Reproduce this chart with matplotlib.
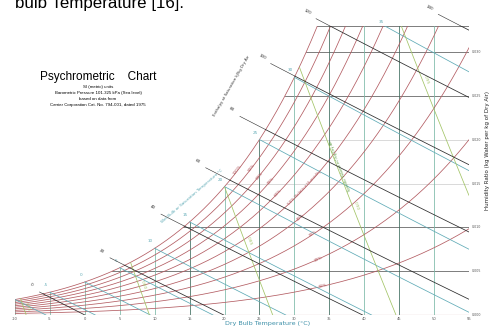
import numpy as np
import matplotlib
matplotlib.use('Agg')
import matplotlib.pyplot as plt

# levels and ticks
dry_bulb = [-10, -5, 0, 5, 10, 15, 20, 25, 30, 35, 40, 45, 50, 55]
dry_bulb_dark = [15, 25, 35, 45]
w_ticks = [0.000, 0.005, 0.010, 0.015, 0.020, 0.025, 0.030]
w_lines = [0.005, 0.010, 0.015, 0.020, 0.025, 0.030, 0.033]
w_lines_light = [0.015, 0.020]
rh_levels = [0.1, 0.2, 0.3, 0.4, 0.5, 0.6, 0.7, 0.8, 0.9, 1.0]
rh_labels = ['10%', '20%', '30%', '40%', '50% Relative Humidity', '60%', '70%', '80%', '90%', '100%']
rh_label_t = [34.1, 33.4, 32.7, 30.9, 31.5, 27.7, 26.6, 25.0, 23.9, 21.9]
wet_bulb = [-10, -5, 0, 5, 10, 15, 20, 25, 30, 35]
enthalpy = [0, 20, 40, 60, 80, 100, 120, 140]
enthalpy_label_t = [-7.7, 2.4, 9.7, 16.1, 21.0, 25.4, 31.9, 49.4]
volume = [0.75, 0.80, 0.85, 0.90, 0.95]
volume_label_w = [0.0009, 0.0034, 0.0084, 0.0125, 0.0268]

P = 101.325
T_MIN, T_MAX, W_TOP = -10, 55, 0.033

rh_color = '#b35c62'
wb_color = '#5eaab6'
db_color = '#78b8a6'
db_dark = '#3b6b5c'
h_color = '#2a2a2a'
v_color = '#a2c466'
grid_dark = '#5a5a5a'
grid_light = '#cfcfcf'


def p_sat(t):
    return 0.61094 * np.exp(17.625 * t / (t + 243.04))


def t_from_ps(ps):
    a = np.log(ps / 0.61094)
    return 243.04 * a / (17.625 - a)


def w_from_pv(pv):
    return 0.622 * pv / (P - pv)


def pv_from_w(w):
    return w * P / (0.622 + w)


def w_sat(t):
    return w_from_pv(p_sat(t))


def h_line_w(h, t):
    return (h - 1.006 * t) / (2501 + 1.86 * t)


tt = np.linspace(-20, 70, 4000)
h_sat_grid = 1.006 * tt + w_sat(tt) * (2501 + 1.86 * tt)

fig = plt.figure(figsize=(4.92, 3.36), dpi=100)
ax = fig.add_axes([15 / 492, 21 / 336, 454 / 492, 289 / 336])
ax.set_xlim(T_MIN, T_MAX)
ax.set_ylim(0, W_TOP)
ax.axis('off')

lw = 0.55

# horizontal humidity ratio lines
for w in w_lines:
    c = grid_light if w in w_lines_light else grid_dark
    ax.plot([t_from_ps(pv_from_w(w)), T_MAX], [w, w], color=c, lw=lw, zorder=1)

# dry bulb verticals
for t in dry_bulb:
    top = min(w_sat(t), W_TOP)
    c = db_dark if t in dry_bulb_dark else db_color
    ax.plot([t, t], [0, top], color=c, lw=lw, zorder=1)

# relative humidity curves
for rh in rh_levels:
    t_end = min(T_MAX, t_from_ps(pv_from_w(W_TOP) / rh))
    t = np.linspace(T_MIN, t_end, 300)
    ax.plot(t, w_from_pv(rh * p_sat(t)), color=rh_color, lw=lw, zorder=2)
ax.plot([T_MIN, T_MAX], [0, 0], color=rh_color, lw=0.8, zorder=2)

# wet bulb lines
for twb in wet_bulb:
    A = (2501 - 2.326 * twb) * w_sat(twb)
    if w_sat(twb) <= W_TOP:
        t0 = twb
    else:
        t0 = (A + 1.006 * twb - W_TOP * (2501 - 4.186 * twb)) / (1.86 * W_TOP + 1.006)
    t1 = min(T_MAX, twb + A / 1.006)
    t = np.linspace(t0, t1, 60)
    w = (A - 1.006 * (t - twb)) / (2501 + 1.86 * t - 4.186 * twb)
    ax.plot(t, np.clip(w, 0, None), color=wb_color, lw=lw, zorder=3)
    if w_sat(twb) <= W_TOP:
        lx, ly = twb - 0.6, w_sat(twb) + 0.0008
    else:
        lx, ly = t0 - 0.5, W_TOP + 0.0005
    if twb > -10:
        ax.text(lx, ly, str(twb), color=wb_color, fontsize=3, ha='center', va='center',
                clip_on=False)

# enthalpy lines, with their scale outside the saturation curve
for h, lt in zip(enthalpy, enthalpy_label_t):
    ts = np.interp(h, h_sat_grid, tt)
    t_in = ts
    if w_sat(ts) > W_TOP:
        t_in = (h - W_TOP * 2501) / (1.006 + W_TOP * 1.86)
    t_end = min(T_MAX, h / 1.006)
    t = np.linspace(t_in, t_end, 60)
    ax.plot(t, np.clip(h_line_w(h, t), 0, None), color=h_color, lw=lw, zorder=4)
    t = np.linspace(lt + 1.2, t_in, 20)
    ax.plot(t, h_line_w(h, t), color=h_color, lw=0.4, zorder=4, clip_on=False)
    ax.text(lt, h_line_w(h, lt) + 0.0003, str(h), fontsize=3, color=h_color,
            ha='center', va='center', rotation=-27, clip_on=False)

# specific volume lines
for v, lw_ in zip(volume, volume_label_w):
    k = v * P / 0.287042
    tg = np.linspace(-10, 70, 3000)
    wg = (k / (tg + 273.15) - 1) / 1.6078
    ok = (wg >= 0) & (wg <= np.minimum(w_sat(tg), W_TOP)) & (tg <= T_MAX)
    ax.plot(tg[ok], wg[ok], color=v_color, lw=lw, zorder=3)
    tl = k / (1 + 1.6078 * lw_) - 273.15
    ax.text(tl + 0.6, lw_, '%.2f' % v, fontsize=3, color=v_color, rotation=-70,
            ha='center', va='center')

fig.canvas.draw()


def screen_angle(x0, y0, x1, y1):
    (a, b), (c, d) = ax.transData.transform([(x0, y0), (x1, y1)])
    return np.degrees(np.arctan2(d - b, c - a))


# relative humidity labels
for rh, lab, lt in zip(rh_levels, rh_labels, rh_label_t):
    w0 = w_from_pv(rh * p_sat(lt - 0.3))
    w1 = w_from_pv(rh * p_sat(lt + 0.3))
    ang = screen_angle(lt - 0.3, w0, lt + 0.3, w1)
    ax.text(lt, w_from_pv(rh * p_sat(lt)), lab, fontsize=3, color=rh_color,
            rotation=ang, ha='center', va='center', rotation_mode='anchor',
            clip_on=False)

# specific volume caption along the 0.90 line
k = 0.90 * P / 0.287042
ax.text(36.6, 0.0171, 'Specific Volume m³/kg Dry Air', fontsize=2.6, color='#5a9a40',
        rotation=screen_angle(k / (1 + 1.6078 * 0.02) - 273.15, 0.02,
                              k / (1 + 1.6078 * 0.014) - 273.15, 0.014) + 180,
        ha='center', va='center', rotation_mode='anchor')

# captions of the scales
fig.text(232 / 492, 1 - 86 / 336, 'Enthalpy at Saturation kJ/kg Dry Air', fontsize=2.8,
         color='#333333', rotation=60, ha='center', va='center')
fig.text(192 / 492, 1 - 196 / 336, 'Wet Bulb or Saturation Temperature °C', fontsize=3,
         color=wb_color, rotation=41, ha='center', va='center')

# tick labels
for t in dry_bulb:
    ax.text(t, -0.00045, str(t), fontsize=2.6, color='#555555', ha='center', va='center',
            clip_on=False)
for w in w_ticks:
    ax.text(T_MAX + 0.35, w, '%.3f' % w, fontsize=2.3, color='#555555', ha='left',
            va='center', clip_on=False)

fig.text(268 / 492, 1 - 324 / 336, 'Dry Bulb Temperature (°C)', fontsize=4.6,
         color='#3c8fa8', ha='center', va='center')
fig.text(487.5 / 492, 1 - 150 / 336, 'Humidity Ratio (kg Water per kg of Dry Air)',
         fontsize=4.0, color='#222222', rotation=90, ha='center', va='center')

# title block
fig.text(98 / 492, 1 - 77 / 336, 'Psychrometric    Chart', fontsize=8.5,
         family='Liberation Sans', ha='center', va='center')
sub = ['SI (metric) units', 'Barometric Pressure 101.325 kPa (Sea level)',
       'based on data from', 'Carrier Corporation Cat. No. 794-001, dated 1975']
for i, s in enumerate(sub):
    fig.text(98 / 492, 1 - (87 + 6 * i) / 336, s, fontsize=3.2,
             family='Liberation Sans', ha='center', va='center')

# caption cut off at the top of the page
fig.text(15 / 492, 1 - 8 / 336, 'bulb Temperature [16].', fontsize=12.2,
         family='Liberation Sans', ha='left', va='baseline')

fig.savefig('out.png', dpi=100)
